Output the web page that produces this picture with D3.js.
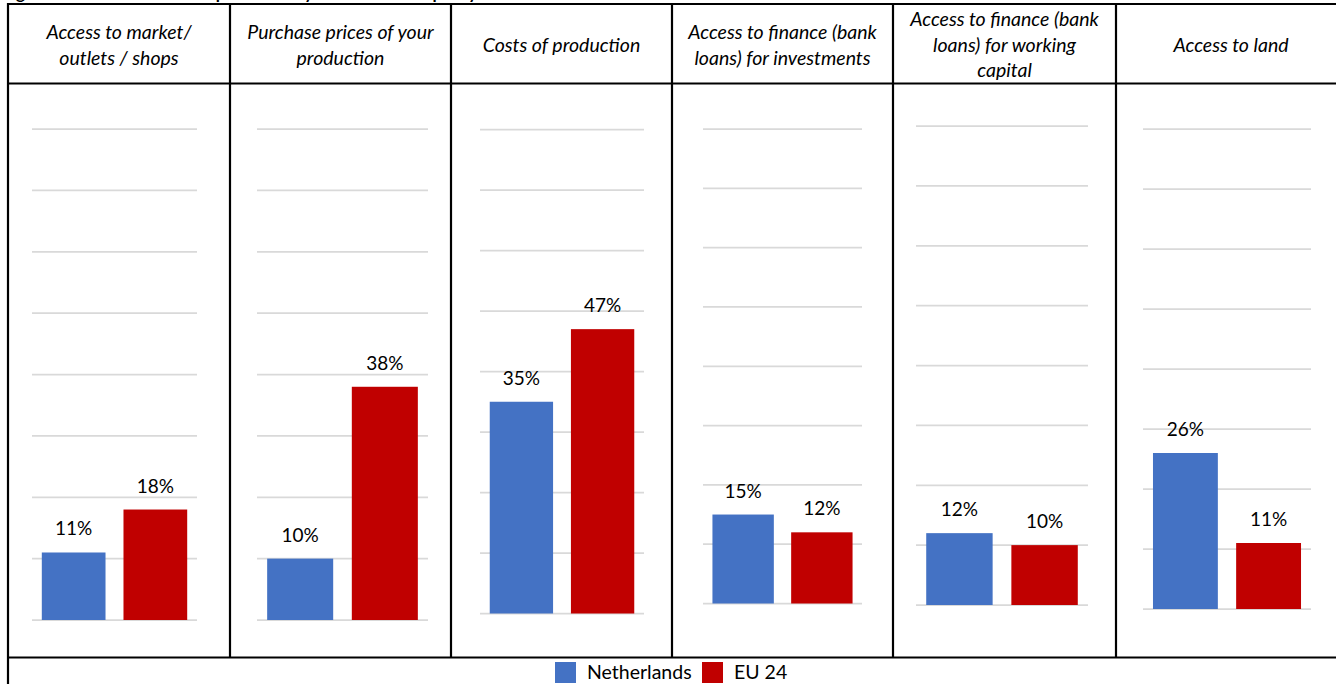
<!DOCTYPE html>
<html>
<head>
<meta charset="utf-8">
<script src="https://d3js.org/d3.v7.min.js"></script>
<style>
  body { margin: 0; background: #fff; }
  svg { display: block; font-family: Lato, "Open Sans", sans-serif; }
</style>
</head>
<body>
<div id="chart"></div>
<script>
// Chart data
var categories = [
    ["Access to market/", "outlets / shops"],
    ["Purchase prices of your", "production"],
    ["Costs of production"],
    ["Access to finance (bank", "loans) for investments"],
    ["Access to finance (bank", "loans) for working", "capital"],
    ["Access to land"]
];
var seriesNames = ["Netherlands", "EU 24"];
var netherlands = [11, 10, 35, 15, 12, 26];
var eu24 = [18, 38, 47, 12, 10, 11];
var gridTicks = [0, 10, 20, 30, 40, 50, 60, 70, 80];

var colours = ["#4472c4", "#c00000"];

function init() {

    var w = 1336;
    var h = 684;

    // table lines: column edges and row edges
    var colEdges = [8, 230, 451, 672, 893, 1116, 1350];
    var tableTop = 4, headerBottom = 83.5, bodyBottom = 657.5;

    // each panel is its own little excel chart, so plot areas differ slightly
    var panels = [
        { x0: 32,   x1: 197,  top: 129,   base: 620 },
        { x0: 257,  x1: 428,  top: 129,   base: 620 },
        { x0: 480,  x1: 644,  top: 129.5, base: 613.5 },
        { x0: 703,  x1: 862,  top: 129,   base: 603.5 },
        { x0: 916,  x1: 1088, top: 126,   base: 605 },
        { x0: 1143, x1: 1311, top: 129,   base: 609 }
    ];

    var svg = d3.select("#chart")
                .append("svg")
                .attr("width", w)
                .attr("height", h);

    // title sits mostly above the page, only descenders show
    svg.append("text")
       .attr("x", 2)
       .attr("y", -1)
       .attr("font-weight", "bold")
       .attr("font-size", 17)
       .attr("fill", "#000")
       .text("Figure 6: Main difficulties experienced by the farm in the past year");

    panels.forEach(function(p, i) {
        var values = [netherlands[i], eu24[i]];

        var xScale = d3.scaleBand()
                       .domain(d3.range(values.length))
                       .range([p.x0, p.x1])
                       .paddingInner(0.22)
                       .paddingOuter(0.12);

        var yScale = d3.scaleLinear()
                       .domain([0, 80])
                       .range([p.base, p.top]);

        var g = svg.append("g");

        // gridlines
        g.selectAll("line.grid")
         .data(gridTicks)
         .enter()
         .append("line")
         .attr("class", "grid")
         .attr("x1", p.x0)
         .attr("x2", p.x1)
         .attr("y1", function(d) { return yScale(d); })
         .attr("y2", function(d) { return yScale(d); })
         .attr("stroke", "#d9d9d9")
         .attr("stroke-width", 1.75);

        g.selectAll("rect")
         .data(values)
         .enter()
         .append("rect")
         .attr("x", function(d, j) { return xScale(j); })
         .attr("y", function(d) { return yScale(d); })
         .attr("width", xScale.bandwidth())
         .attr("height", function(d) { return p.base - yScale(d); })
         .attr("fill", function(d, j) { return colours[j]; });

        g.selectAll("text.val")
         .data(values)
         .enter()
         .append("text")
         .attr("class", "val")
         .attr("x", function(d, j) { return xScale(j) + xScale.bandwidth() / 2; })
         .attr("y", function(d) { return yScale(d) - 17; })
         .attr("text-anchor", "middle")
         .attr("font-size", 19)
         .attr("fill", "#000")
         .text(function(d) { return d + "%"; });

        // header cell text, italic, centred in the column
        var cx = (colEdges[i] + colEdges[i + 1]) / 2;
        if (i == 5) cx = (colEdges[i] + 1336) / 2 + 5;
        var lines = categories[i];
        var lineH = 25.5;
        var midY = (tableTop + headerBottom) / 2 + 8;
        g.selectAll("text.head")
         .data(lines)
         .enter()
         .append("text")
         .attr("class", "head")
         .attr("x", cx)
         .attr("y", function(d, k) { return midY + (k - (lines.length - 1) / 2) * lineH; })
         .attr("text-anchor", "middle")
         .attr("font-style", "italic")
         .attr("font-size", 19.5)
         .attr("fill", "#000")
         .text(function(d) { return d; });
    });

    // table borders
    var borders = svg.append("g")
                     .attr("stroke", "#000")
                     .attr("stroke-width", 2.2);

    [tableTop, headerBottom, bodyBottom].forEach(function(y) {
        borders.append("line")
               .attr("x1", colEdges[0] - 1).attr("x2", w)
               .attr("y1", y).attr("y2", y);
    });
    colEdges.slice(0, 6).forEach(function(x, i) {
        borders.append("line")
               .attr("x1", x).attr("x2", x)
               .attr("y1", tableTop - 1)
               .attr("y2", i == 0 ? h : bodyBottom);
    });

    // legend row
    var legend = svg.append("g");
    var legendItems = [
        { name: seriesNames[0], x: 555, colour: colours[0] },
        { name: seriesNames[1], x: 702, colour: colours[1] }
    ];
    legendItems.forEach(function(d) {
        legend.append("rect")
              .attr("x", d.x)
              .attr("y", 662)
              .attr("width", 21)
              .attr("height", 21)
              .attr("fill", d.colour);
        legend.append("text")
              .attr("x", d.x + 32)
              .attr("y", 679)
              .attr("font-size", 19.5)
              .attr("fill", "#000")
              .text(d.name);
    });
}

window.onload = init;
</script>
</body>
</html>
